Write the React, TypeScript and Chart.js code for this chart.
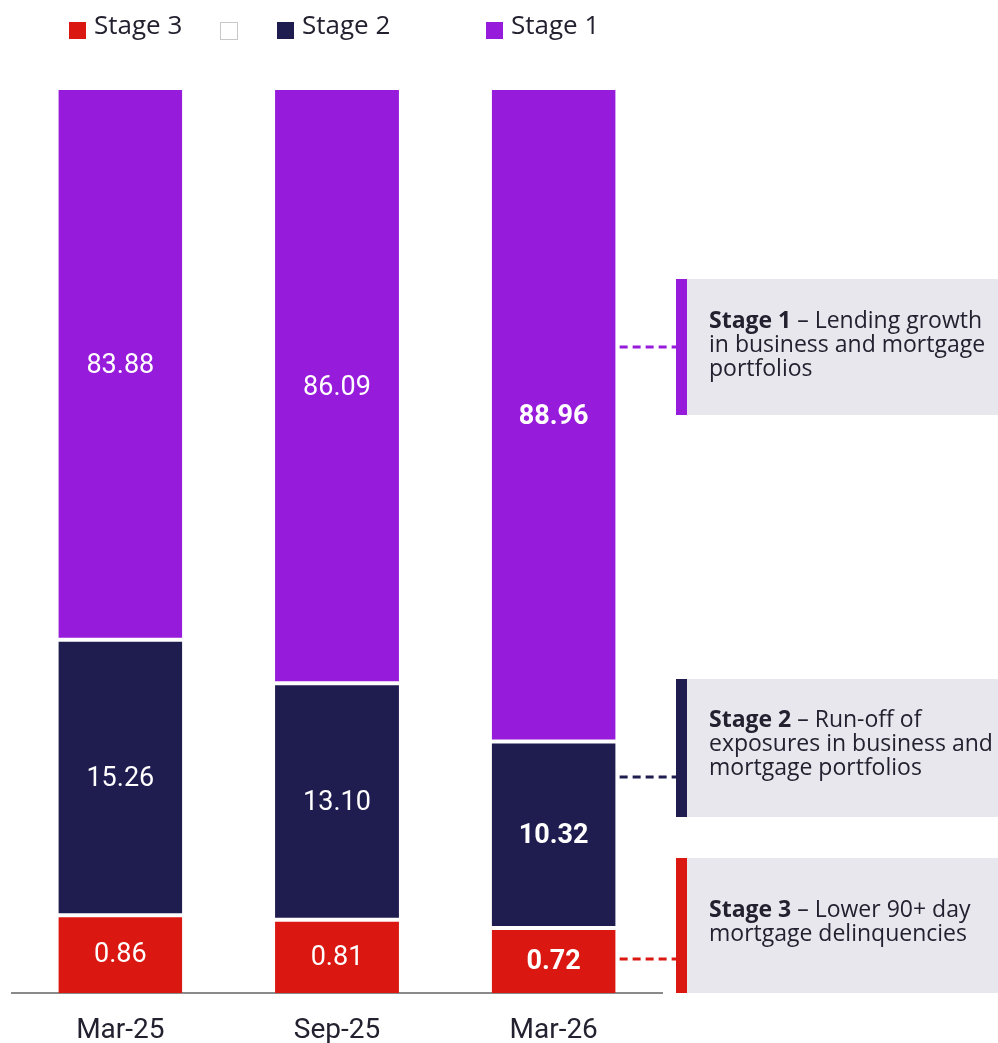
import React, { useEffect, useRef } from 'react';
import { Chart, registerables } from 'chart.js';

Chart.register(...registerables);

// ---- data ----
const categories = ['Mar-25', 'Sep-25', 'Mar-26'];
const stage3 = [0.86, 0.81, 0.72];
const stage2 = [15.26, 13.1, 10.32];
const stage1 = [83.88, 86.09, 88.96];
const legendLabels = ['Stage 3', '', 'Stage 2', 'Stage 1'];
const noteTitles = ['Stage 1', 'Stage 2', 'Stage 3'];
const noteLines = [
  ['– Lending growth', 'in business and mortgage', 'portfolios'],
  ['– Run-off of', 'exposures in business and', 'mortgage portfolios'],
  ['– Lower 90+ day', 'mortgage delinquencies'],
];

// the source chart exaggerates the small stages (visual scale factors)
const STAGE3_SCALE = 10;
const STAGE2_SCALE = 2;
const TOTAL = 100;

const RED = '#DA1710';
const NAVY = '#1F1C4F';
const PURPLE = '#971BDB';
const TEXT = '#23212F';
const BOX = '#E8E7ED';

const s3Display = stage3.map((v) => v * STAGE3_SCALE);
const s2Display = stage2.map((v) => v * STAGE2_SCALE);
const s1Display = categories.map((_, i) => TOTAL - s3Display[i] - s2Display[i]);

const LABEL_FONT = 'Roboto, sans-serif';
const UI_FONT = '"Open Sans", Lato, sans-serif';

const valueLabels = {
  id: 'valueLabels',
  afterDatasetsDraw(chart: any) {
    const ctx = chart.ctx;
    ctx.save();
    ctx.textAlign = 'center';
    ctx.textBaseline = 'middle';
    ctx.fillStyle = '#FFFFFF';
    chart.data.datasets.forEach((ds: any, di: number) => {
      const meta = chart.getDatasetMeta(di);
      meta.data.forEach((el: any, i: number) => {
        const p = el.getProps(['x', 'y', 'base'], true);
        const bold = i === categories.length - 1;
        ctx.font = `${bold ? 'bold ' : ''}27px ${LABEL_FONT}`;
        ctx.fillText(ds.rawValues[i].toFixed(2), p.x, (p.y + p.base) / 2 + 1.5);
      });
    });
    ctx.restore();
  },
};

const legendPlugin = {
  id: 'customLegend',
  afterDraw(chart: any) {
    const ctx = chart.ctx;
    const colors = [RED, '#FFFFFF', NAVY, PURPLE];
    const xs = [69, 220, 277, 486];
    ctx.save();
    ctx.textBaseline = 'middle';
    ctx.textAlign = 'left';
    ctx.font = `26px ${UI_FONT}`;
    legendLabels.forEach((lab, i) => {
      const x = xs[i];
      ctx.fillStyle = colors[i];
      ctx.fillRect(x, 22, 17, 17);
      if (!lab) {
        ctx.strokeStyle = '#C8C8C8';
        ctx.lineWidth = 1;
        ctx.strokeRect(x + 0.5, 22.5, 17, 17);
      }
      ctx.fillStyle = TEXT;
      ctx.fillText(lab, x + 25, 27);
    });
    ctx.restore();
  },
};

const notesPlugin = {
  id: 'notes',
  afterDraw(chart: any) {
    const ctx = chart.ctx;
    const boxLeft = chart.chartArea.right + 14;
    const boxRight = chart.width;
    const boxes = [
      { top: 279, bottom: 415, lineY: 347, color: PURPLE, ds: 2, textY: 321 },
      { top: 679, bottom: 817, lineY: 777, color: NAVY, ds: 1, textY: 720 },
      { top: 858, bottom: 993, lineY: 959, color: RED, ds: 0, textY: 910 },
    ];
    ctx.save();
    boxes.forEach((b, k) => {
      ctx.fillStyle = BOX;
      ctx.fillRect(boxLeft, b.top, boxRight - boxLeft, b.bottom - b.top);
      ctx.fillStyle = b.color;
      ctx.fillRect(boxLeft, b.top, 11, b.bottom - b.top);
      const el = chart.getDatasetMeta(b.ds).data[categories.length - 1];
      const barRight = el.x + el.width / 2;
      ctx.strokeStyle = b.color;
      ctx.lineWidth = 3;
      ctx.setLineDash([8, 5]);
      ctx.beginPath();
      ctx.moveTo(barRight + 4, b.lineY);
      ctx.lineTo(boxLeft, b.lineY);
      ctx.stroke();
      ctx.setLineDash([]);

      ctx.textBaseline = 'middle';
      ctx.textAlign = 'left';
      ctx.fillStyle = TEXT;
      const tx = boxLeft + 33;
      noteLines[k].forEach((line, li) => {
        const y = b.textY + li * 24.3;
        if (li === 0) {
          ctx.font = `bold 23px ${UI_FONT}`;
          const t = noteTitles[k] + ' ';
          ctx.fillText(t, tx, y);
          const w = ctx.measureText(t).width;
          ctx.font = `23px ${UI_FONT}`;
          ctx.fillText(line, tx + w, y);
        } else {
          ctx.font = `23px ${UI_FONT}`;
          ctx.fillText(line, tx, y);
        }
      });
    });
    ctx.restore();
  },
};

export default function App() {
  const ref = useRef<HTMLCanvasElement>(null);
  useEffect(() => {
    if (!ref.current) return;
    const chart = new Chart(ref.current, {
      type: 'bar',
      data: {
        labels: categories,
        datasets: [
          {
            label: 'Stage 3',
            data: s3Display,
            rawValues: stage3,
            backgroundColor: RED,
            borderColor: '#FFFFFF',
            borderWidth: { top: 2, bottom: 0, left: 0, right: 0 },
            borderSkipped: false,
          } as any,
          {
            label: 'Stage 2',
            data: s2Display,
            rawValues: stage2,
            backgroundColor: NAVY,
            borderColor: '#FFFFFF',
            borderWidth: { top: 2, bottom: 2, left: 0, right: 0 },
            borderSkipped: false,
          } as any,
          {
            label: 'Stage 1',
            data: s1Display,
            rawValues: stage1,
            backgroundColor: PURPLE,
            borderColor: '#FFFFFF',
            borderWidth: { top: 0, bottom: 2, left: 0, right: 0 },
            borderSkipped: false,
          } as any,
        ],
      },
      options: {
        animation: false,
        responsive: false,
        events: [],
        layout: { padding: { top: 90, left: 12, right: 336, bottom: 0 } },
        datasets: { bar: { barPercentage: 1, categoryPercentage: 0.572 } },
        plugins: { legend: { display: false }, tooltip: { enabled: false } },
        scales: {
          x: {
            stacked: true,
            grid: { display: false, drawTicks: false },
            border: { display: true, color: '#8A8A8A', width: 2 },
            ticks: {
              color: TEXT,
              font: { family: LABEL_FONT, size: 28 },
              padding: 21,
              maxRotation: 0,
            },
            afterFit: (scale: any) => {
              scale.height = 50;
            },
          },
          y: {
            stacked: true,
            display: false,
            min: 0,
            max: TOTAL,
          },
        },
      },
      plugins: [valueLabels, legendPlugin, notesPlugin],
    });
    return () => chart.destroy();
  }, []);
  return (
    <div style={{ position: 'absolute', left: 0, top: 0, width: 998, height: 1043, background: '#fff' }}>
      <canvas ref={ref} width={998} height={1043} />
    </div>
  );
}
